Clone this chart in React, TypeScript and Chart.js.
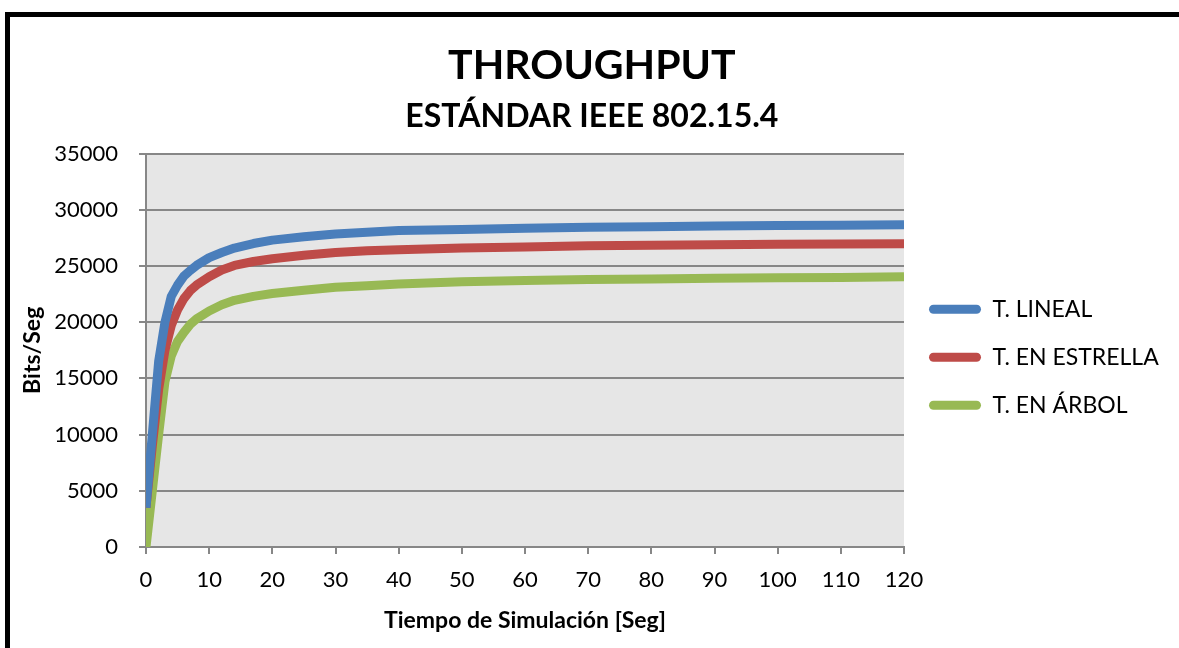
import { useEffect, useRef } from "react";
import { Chart, registerables } from "chart.js";

Chart.register(...registerables);

const chartTitle = "THROUGHPUT";
const chartSubtitle = "ESTÁNDAR IEEE 802.15.4";
const xAxisTitle = "Tiempo de Simulación [Seg]";
const yAxisTitle = "Bits/Seg";
const seriesNames = ["T. LINEAL", "T. EN ESTRELLA", "T. EN ÁRBOL"];

const timeSec = [0, 1, 2, 3, 4, 5, 6, 7, 8, 10, 12, 14, 17, 20, 25, 30, 35, 40, 50, 60, 70, 80, 90, 100, 110, 120];
const linealValues = [3500, 10000, 16500, 20000, 22300, 23300, 24100, 24600, 25050, 25750, 26200, 26600, 27000, 27300, 27600, 27850, 28000, 28150, 28250, 28350, 28450, 28500, 28550, 28600, 28630, 28680];
const estrellaValues = [3500, 9000, 14000, 17500, 19700, 21100, 22100, 22800, 23300, 24050, 24650, 25050, 25400, 25650, 25950, 26200, 26350, 26450, 26600, 26700, 26800, 26850, 26900, 26930, 26950, 26980];
const arbolValues = [0, 5000, 10000, 14700, 17000, 18300, 19100, 19800, 20300, 21000, 21550, 21950, 22300, 22550, 22850, 23100, 23250, 23400, 23600, 23700, 23800, 23850, 23900, 23950, 23980, 24050];

const xMin = 0;
const xMax = 120;
const xStep = 10;
const yMin = 0;
const yMax = 35000;
const yStep = 5000;

const colors = ["#4A7EBB", "#BE4B48", "#98B954"];

const FONT = "Lato, 'Open Sans', sans-serif";

const plotBg = {
  id: "plotBg",
  beforeDraw(chart: any) {
    const { ctx, chartArea } = chart;
    if (!chartArea) return;
    ctx.save();
    ctx.fillStyle = "#E6E6E6";
    ctx.fillRect(chartArea.left, chartArea.top, chartArea.right - chartArea.left, chartArea.bottom - chartArea.top);
    ctx.restore();
  },
};

export default function App() {
  const ref = useRef<HTMLCanvasElement | null>(null);

  useEffect(() => {
    if (!ref.current) return;
    Chart.defaults.font.family = FONT;
    Chart.defaults.color = "#000";
    const toPts = (vals: number[]) => timeSec.map((t, i) => ({ x: t, y: vals[i] }));
    const seriesData = [linealValues, estrellaValues, arbolValues];
    const chart = new Chart(ref.current, {
      type: "line",
      data: {
        datasets: seriesNames.map((name, i) => ({
          label: name,
          data: toPts(seriesData[i]),
          borderColor: colors[i],
          backgroundColor: colors[i],
          borderWidth: 9,
          pointRadius: 0,
          tension: 0,
          borderJoinStyle: "round",
          borderCapStyle: "butt",
        })),
      },
      options: {
        animation: false,
        responsive: false,
        maintainAspectRatio: false,
        layout: { padding: { left: 15, right: 20, top: 0, bottom: 0 } },
        plugins: {
          title: {
            display: true,
            text: chartTitle,
            font: { size: 41, weight: "bold", family: FONT },
            color: "#000",
            padding: { top: 41, bottom: 0 },
          },
          subtitle: {
            display: true,
            text: chartSubtitle,
            font: { size: 32, weight: "bold", family: FONT },
            color: "#000",
            padding: { top: 7, bottom: 18 },
          },
          legend: {
            display: true,
            position: "right",
            align: "center",
            fullSize: false,
            title: {
              display: true,
              text: " ",
              font: { size: 10, family: FONT },
              padding: 1,
            },
            labels: {
              boxWidth: 52,
              boxHeight: 9,
              padding: 25,
              color: "#000",
              font: { size: 23, family: FONT },
              useBorderRadius: true,
              borderRadius: 4.5,
              generateLabels: (c: any) => {
                const items = Chart.defaults.plugins.legend.labels.generateLabels(c);
                return items.map((it: any, i: number) => ({
                  ...it,
                  fillStyle: colors[i],
                  strokeStyle: colors[i],
                  lineWidth: 0,
                }));
              },
            },
          },
          tooltip: { enabled: false },
        },
        scales: {
          x: {
            type: "linear",
            min: xMin,
            max: xMax,
            afterFit: (s: any) => {
              s.height = 101;
            },
            ticks: {
              stepSize: xStep,
              padding: 13,
              color: "#000",
              font: { size: 22, family: FONT },
              maxRotation: 0,
              callback: (v: any) => String(v),
            },
            grid: {
              drawOnChartArea: false,
              drawTicks: true,
              tickLength: 7,
              color: "#878787",
              lineWidth: 2,
            },
            border: { display: true, color: "#878787", width: 2 },
            title: {
              display: true,
              text: xAxisTitle,
              font: { size: 23, weight: "bold", family: FONT },
              color: "#000",
              padding: { top: 0, bottom: 14 },
            },
          },
          y: {
            min: yMin,
            max: yMax,
            afterFit: (s: any) => {
              s.width = 131;
            },
            ticks: {
              stepSize: yStep,
              padding: 21,
              color: "#000",
              font: { size: 22, family: FONT },
              callback: (v: any) => String(v),
            },
            grid: {
              drawOnChartArea: true,
              drawTicks: true,
              tickLength: 7,
              color: "#878787",
              lineWidth: 2,
            },
            border: { display: true, color: "#878787", width: 2 },
            title: {
              display: true,
              text: yAxisTitle,
              font: { size: 23, weight: "bold", family: FONT },
              color: "#000",
              padding: { top: 4, bottom: 0 },
            },
          },
        },
      },
      plugins: [plotBg],
    } as any);

    // align plot-area right edge with the reference frame
    for (let k = 0; k < 3; k++) {
      const dx = chart.chartArea.right - 904;
      if (Math.abs(dx) < 0.5) break;
      (chart.options.layout as any).padding.right += dx;
      chart.update();
    }

    return () => chart.destroy();
  }, []);

  return (
    <div style={{ position: "fixed", left: 0, top: 0, width: 1179, height: 648, overflow: "hidden", background: "#fff" }}>
      <canvas ref={ref} width={1179} height={648} style={{ position: "absolute", left: 0, top: 0, width: 1179, height: 648 }} />
      <div
        style={{
          position: "absolute",
          left: 5,
          top: 12,
          width: 1400,
          height: 900,
          borderLeft: "5px solid #000",
          borderTop: "5px solid #000",
          pointerEvents: "none",
        }}
      />
    </div>
  );
}
